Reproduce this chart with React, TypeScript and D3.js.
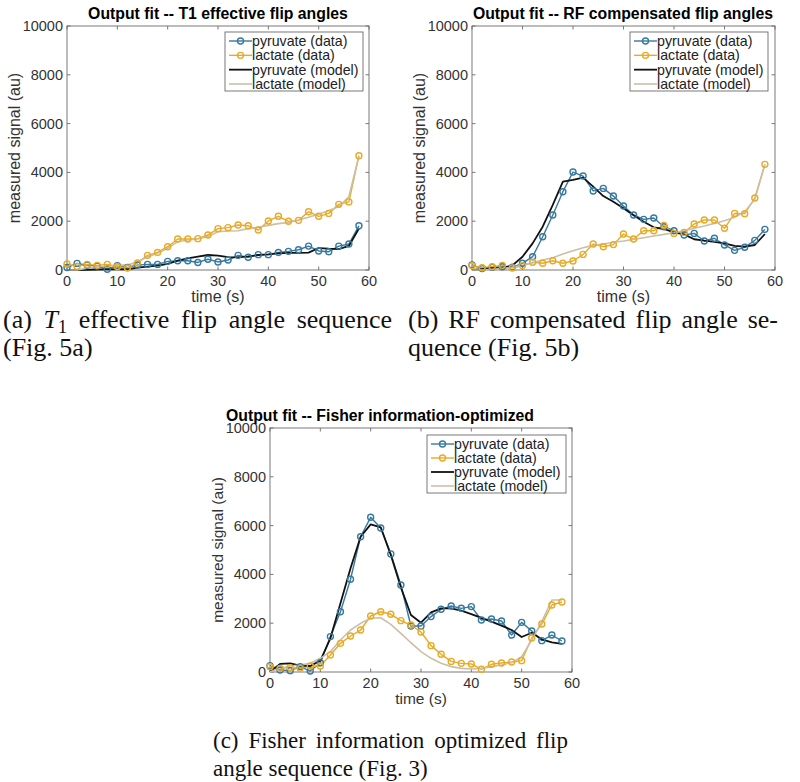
import React, { useLayoutEffect, useRef, useState } from 'react';
import * as d3 from 'd3';

const TIME = [0, 2, 4, 6, 8, 10, 12, 14, 16, 18, 20, 22, 24, 26, 28, 30, 32, 34, 36, 38, 40, 42, 44, 46, 48, 50, 52, 54, 56, 58];
const X_TICKS = [0, 10, 20, 30, 40, 50, 60];
const Y_TICKS = [0, 2000, 4000, 6000, 8000, 10000];
const LEGEND_LABELS = ['pyruvate (data)', 'lactate (data)', 'pyruvate (model)', 'lactate (model)'];

// Panel (a) T1 effective
const A_PYR_DATA = [100, 270, 200, 160, 30, 180, 100, 200, 230, 230, 355, 380, 380, 310, 440, 330, 410, 600, 520, 630, 630, 720, 765, 830, 980, 780, 750, 980, 1065, 1815];
const A_LAC_DATA = [245, 150, 230, 190, 230, 135, 80, 285, 600, 720, 955, 1270, 1270, 1285, 1435, 1695, 1735, 1845, 1815, 1640, 2010, 2200, 1995, 2035, 2390, 2200, 2320, 2690, 2790, 4685];
const A_PYR_MODEL = [0, 0, 10, 20, 25, 30, 30, 100, 140, 180, 250, 380, 480, 550, 615, 590, 530, 520, 560, 615, 640, 680, 700, 700, 710, 900, 875, 860, 985, 1700];
const A_LAC_MODEL = [0, 0, 70, 135, 165, 200, 200, 340, 545, 680, 890, 1160, 1230, 1270, 1370, 1570, 1600, 1610, 1695, 1750, 1830, 1900, 1950, 2050, 2160, 2295, 2430, 2600, 3000, 4685];

// Panel (b) RF compensated
const B_PYR_DATA = [205, 60, 110, 135, 110, 275, 545, 1365, 2255, 3210, 4015, 3850, 3240, 3345, 3030, 2620, 2255, 2075, 2130, 1775, 1610, 1435, 1500, 1190, 1300, 1025, 805, 930, 1215, 1665];
const B_LAC_DATA = [180, 95, 135, 190, 80, 180, 315, 275, 380, 275, 370, 640, 1065, 955, 1040, 1475, 1270, 1610, 1610, 1830, 1500, 1540, 1885, 2050, 2050, 1710, 2320, 2310, 2950, 4330];
const B_PYR_MODEL = [0, 30, 80, 80, 190, 545, 1090, 1775, 2665, 3620, 3690, 3785, 3415, 3030, 2800, 2530, 2240, 1980, 1750, 1680, 1545, 1460, 1260, 1200, 1150, 1090, 985, 955, 1025, 1475];
const B_LAC_MODEL = [0, 0, 30, 55, 110, 190, 300, 410, 505, 655, 790, 915, 1010, 1065, 1135, 1190, 1255, 1325, 1395, 1460, 1530, 1610, 1710, 1805, 1910, 2020, 2160, 2390, 2895, 4330];

// Panel (c) Fisher information-optimized
const C_PYR_DATA = [260, 80, 55, 220, 40, 380, 1450, 2470, 3800, 5545, 6340, 5900, 4840, 3565, 1885, 1885, 2270, 2570, 2705, 2610, 2680, 2130, 2170, 2090, 1515, 2035, 1680, 1285, 1515, 1270];
const C_LAC_DATA = [220, 150, 180, 150, 245, 245, 695, 1175, 1475, 1720, 2295, 2470, 2365, 2105, 1925, 1640, 1080, 725, 435, 355, 330, 110, 315, 370, 410, 465, 1395, 1965, 2745, 2870];
const C_PYR_MODEL = [15, 330, 355, 260, 245, 465, 1380, 2815, 4250, 5545, 6050, 5930, 4800, 3470, 2335, 2020, 2445, 2610, 2610, 2515, 2375, 2215, 2065, 1900, 1720, 1435, 1610, 1340, 1215, 1150];
const C_LAC_MODEL = [0, 150, 245, 290, 355, 560, 835, 1310, 1720, 1995, 2200, 2225, 1955, 1585, 1200, 835, 560, 355, 220, 150, 120, 150, 220, 290, 385, 630, 1310, 2065, 2950, 2950];

const BLUE = '#37799f';
const ORANGE = '#e9aa25';
const BLACK = '#111111';
const TAN = '#cbbfa9';
const AXIS = '#6a6a6a';
const TICKTXT = '#333333';
const SANS = '"Liberation Sans", Arial, Helvetica, sans-serif';
const SERIF = '"Liberation Serif", "Times New Roman", serif';

type PanelProps = {
  left: number; top: number; right: number; bottom: number;
  title: string; titleX: number; titleY: number;
  pyrData: number[]; lacData: number[]; pyrModel: number[]; lacModel: number[];
  legendX: number; legendY: number; legendW: number; legendH: number;
  labelSize: number;
};

function Panel(p: PanelProps) {
  const x = d3.scaleLinear().domain([0, 60]).range([p.left, p.right]);
  const y = d3.scaleLinear().domain([0, 10000]).range([p.bottom, p.top]);
  const line = d3.line<number>().x((_, i) => x(TIME[i])).y((v) => y(v));
  const tl = 3.5;
  const rowGap = (p.legendH - 16) / 3;
  const rows = [0, 1, 2, 3].map((i) => p.legendY + 9 + i * rowGap);
  const styles = [
    { c: BLUE, w: 1.4, m: true },
    { c: ORANGE, w: 1.4, m: true },
    { c: BLACK, w: 1.8, m: false },
    { c: TAN, w: 1.6, m: false },
  ];
  const series = [p.pyrData, p.lacData, p.pyrModel, p.lacModel];
  return (
    <g>
      <rect x={p.left} y={p.top} width={p.right - p.left} height={p.bottom - p.top} fill="white" stroke={AXIS} strokeWidth={0.9} />
      {X_TICKS.map((t) => (
        <g key={'xt' + t}>
          <line x1={x(t)} x2={x(t)} y1={p.bottom} y2={p.bottom - tl} stroke={AXIS} strokeWidth={0.9} />
          <line x1={x(t)} x2={x(t)} y1={p.top} y2={p.top + tl} stroke={AXIS} strokeWidth={0.9} />
          <text x={x(t)} y={p.bottom + 16} textAnchor="middle" fontFamily={SANS} fontSize={14.5} fill={TICKTXT}>{t}</text>
        </g>
      ))}
      {Y_TICKS.map((t) => (
        <g key={'yt' + t}>
          <line x1={p.left} x2={p.left + tl} y1={y(t)} y2={y(t)} stroke={AXIS} strokeWidth={0.9} />
          <line x1={p.right} x2={p.right - tl} y1={y(t)} y2={y(t)} stroke={AXIS} strokeWidth={0.9} />
          <text x={p.left - 4} y={y(t) + 5} textAnchor="end" fontFamily={SANS} fontSize={14.5} fill={TICKTXT}>{t}</text>
        </g>
      ))}
      {series.map((s, i) => (
        <path key={'s' + i} d={line(s) || ''} fill="none" stroke={styles[i].c} strokeWidth={styles[i].w} strokeLinejoin="round" />
      ))}
      {[0, 1].map((i) => (
        <g key={'m' + i}>
          {series[i].map((v, j) => (
            <circle key={j} cx={x(TIME[j])} cy={y(v)} r={3} fill="none" stroke={styles[i].c} strokeWidth={1.4} />
          ))}
        </g>
      ))}
      <text x={p.titleX} y={p.titleY} textAnchor="middle" fontFamily={SANS} fontWeight="bold" fontSize={15.8} fill="#000">{p.title}</text>
      <text x={(p.left + p.right) / 2} y={p.bottom + 32} textAnchor="middle" fontFamily={SANS} fontSize={p.labelSize} fill={TICKTXT}>time (s)</text>
      <text transform={`translate(${p.left - 47},${(p.top + p.bottom) / 2}) rotate(-90)`} textAnchor="middle" fontFamily={SANS} fontSize={p.labelSize} fill={TICKTXT}>measured signal (au)</text>
      <rect x={p.legendX} y={p.legendY} width={p.legendW} height={p.legendH} fill="white" stroke={AXIS} strokeWidth={0.9} />
      {LEGEND_LABELS.map((lab, i) => (
        <g key={'lg' + i}>
          <line x1={p.legendX + 4} x2={p.legendX + 27} y1={rows[i]} y2={rows[i]} stroke={styles[i].c} strokeWidth={styles[i].w} />
          {styles[i].m && <circle cx={p.legendX + 15.5} cy={rows[i]} r={3} fill="none" stroke={styles[i].c} strokeWidth={1.4} />}
          <text x={p.legendX + 27} y={rows[i] + 5} fontFamily={SANS} fontSize={14.2} fill="#222">{lab}</text>
        </g>
      ))}
    </g>
  );
}

function JustText(props: { x: number; y: number; width: number; fontSize: number; children: React.ReactNode }) {
  const ref = useRef<SVGTextElement>(null);
  const [ws, setWs] = useState(0);
  useLayoutEffect(() => {
    const el = ref.current;
    if (!el) return;
    el.setAttribute('word-spacing', '0');
    const w = el.getComputedTextLength();
    const n = ((el.textContent || '').match(/ /g) || []).length;
    setWs(n ? Math.max(0, (props.width - w) / n) : 0);
  }, [props.width, props.fontSize]);
  return (
    <text ref={ref} x={props.x} y={props.y} fontSize={props.fontSize} style={{ wordSpacing: ws + 'px' }}>{props.children}</text>
  );
}

export default function App() {
  return (
    <svg width={800} height={782} style={{ position: 'absolute', left: 0, top: 0, background: 'white' }}>
      <rect x={0} y={0} width={800} height={782} fill="white" />
      <Panel left={67} right={369} top={26} bottom={270} title="Output fit -- T1 effective flip angles" titleX={218} titleY={19}
        pyrData={A_PYR_DATA} lacData={A_LAC_DATA} pyrModel={A_PYR_MODEL} lacModel={A_LAC_MODEL}
        legendX={225} legendY={32} legendW={138} legendH={59} labelSize={16} />
      <Panel left={472} right={775} top={26} bottom={270} title="Output fit -- RF compensated flip angles" titleX={623} titleY={19}
        pyrData={B_PYR_DATA} lacData={B_LAC_DATA} pyrModel={B_PYR_MODEL} lacModel={B_LAC_MODEL}
        legendX={630} legendY={32} legendW={138} legendH={59} labelSize={16} />
      <Panel left={270} right={572} top={428} bottom={672} title="Output fit -- Fisher information-optimized" titleX={380} titleY={421}
        pyrData={C_PYR_DATA} lacData={C_LAC_DATA} pyrModel={C_PYR_MODEL} lacModel={C_LAC_MODEL}
        legendX={427} legendY={435} legendW={139} legendH={58} labelSize={15.5} />
      <g fontFamily={SERIF} fill="#111">
        <JustText x={3} y={328} width={389} fontSize={26}>(a) <tspan fontStyle="italic">T</tspan><tspan fontSize={18} dy={5}>1</tspan><tspan dy={-5}> effective flip angle sequence</tspan></JustText>
        <text x={3} y={356} fontSize={26}>(Fig. 5a)</text>
        <JustText x={408} y={328} width={370} fontSize={26}>(b) RF compensated flip angle se-</JustText>
        <text x={408} y={356} fontSize={26}>quence (Fig. 5b)</text>
        <JustText x={213} y={748} width={355} fontSize={23}>(c) Fisher information optimized flip</JustText>
        <text x={213} y={776} fontSize={23}>angle sequence (Fig. 3)</text>
      </g>
    </svg>
  );
}
